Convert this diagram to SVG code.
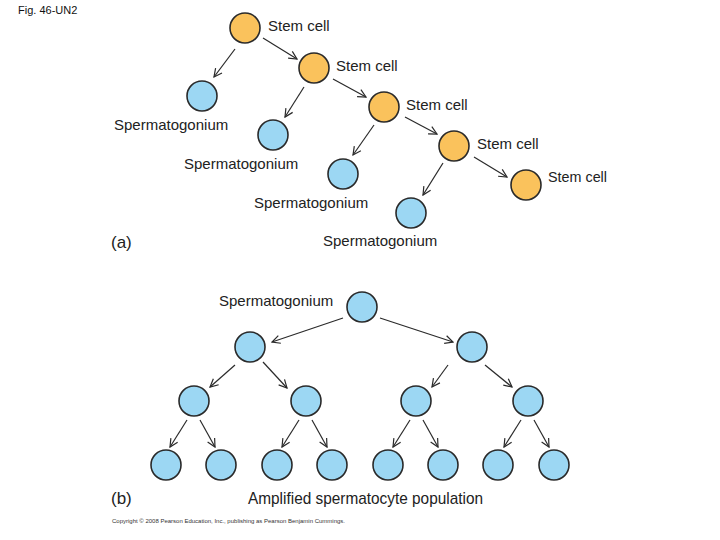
<svg xmlns="http://www.w3.org/2000/svg" width="720" height="540" viewBox="0 0 720 540">
<style>
.stem{fill:#FAC25C;stroke:#2a2a2a;stroke-width:1.6}
.sp{fill:#9CD7F3;stroke:#2a2a2a;stroke-width:1.6}
.lbl{font-family:"Liberation Sans",Arial,sans-serif;font-size:15px;fill:#222}
.big{font-family:"Liberation Sans",Arial,sans-serif;font-size:17px;fill:#222}
.arr{fill:none;stroke:#2a2a2a;stroke-width:1.2;marker-end:url(#ah)}
</style>
<defs>
<marker id="ah" viewBox="0 0 10 10" refX="9" refY="5" markerWidth="10" markerHeight="10" markerUnits="userSpaceOnUse" orient="auto">
<path d="M1,1 L9,5 L1,9" fill="none" stroke="#2a2a2a" stroke-width="1.2"/>
</marker>
</defs>
<rect width="720" height="540" fill="#fff"/>
<text x="18" y="14" font-family="Liberation Sans,Arial,sans-serif" font-size="11" fill="#111">Fig. 46-UN2</text>

<g id="connectors">
<!-- part a -->
<line class="arr" x1="235" y1="49" x2="214" y2="77"/>
<line class="arr" x1="263" y1="38" x2="297" y2="59"/>
<line class="arr" x1="304" y1="87" x2="285" y2="117"/>
<line class="arr" x1="333" y1="79" x2="366" y2="97"/>
<line class="arr" x1="374" y1="125" x2="353" y2="155"/>
<line class="arr" x1="405" y1="117" x2="437" y2="134"/>
<line class="arr" x1="443" y1="163" x2="423" y2="195"/>
<line class="arr" x1="474" y1="157" x2="507" y2="177"/>
<!-- part b -->
<line class="arr" x1="343" y1="318" x2="272" y2="342"/>
<line class="arr" x1="380" y1="318" x2="453" y2="342"/>
<line class="arr" x1="235" y1="365" x2="210" y2="387"/>
<line class="arr" x1="263" y1="362" x2="287" y2="388"/>
<line class="arr" x1="448" y1="365" x2="432" y2="387"/>
<line class="arr" x1="485" y1="365" x2="512" y2="387"/>
<line class="arr" x1="187" y1="420" x2="170" y2="447"/>
<line class="arr" x1="200" y1="420" x2="215" y2="447"/>
<line class="arr" x1="299" y1="420" x2="282" y2="447"/>
<line class="arr" x1="312" y1="420" x2="327" y2="447"/>
<line class="arr" x1="410" y1="420" x2="393" y2="447"/>
<line class="arr" x1="423" y1="420" x2="438" y2="447"/>
<line class="arr" x1="521" y1="420" x2="504" y2="447"/>
<line class="arr" x1="534" y1="420" x2="549" y2="447"/>
</g>

<g id="stem1"><circle class="stem" cx="245" cy="28" r="15"/><text class="lbl" x="268" y="31">Stem cell</text></g>
<g id="stem2"><circle class="stem" cx="314" cy="68" r="15"/><text class="lbl" x="336" y="71">Stem cell</text></g>
<g id="stem3"><circle class="stem" cx="384" cy="107" r="15"/><text class="lbl" x="406" y="110">Stem cell</text></g>
<g id="stem4"><circle class="stem" cx="454" cy="146" r="15"/><text class="lbl" x="477" y="149">Stem cell</text></g>
<g id="stem5"><circle class="stem" cx="526" cy="185" r="15"/><text class="lbl" x="548" y="182" textLength="59" lengthAdjust="spacingAndGlyphs">Stem cell</text></g>

<g id="sperm1"><circle class="sp" cx="202" cy="96" r="15"/><text class="lbl" x="114" y="130">Spermatogonium</text></g>
<g id="sperm2"><circle class="sp" cx="273" cy="135" r="15"/><text class="lbl" x="184" y="169">Spermatogonium</text></g>
<g id="sperm3"><circle class="sp" cx="343" cy="174" r="15"/><text class="lbl" x="254" y="208">Spermatogonium</text></g>
<g id="sperm4"><circle class="sp" cx="411" cy="213" r="15"/><text class="lbl" x="323" y="246">Spermatogonium</text></g>
<text class="big" x="111" y="248">(a)</text>

<g id="b-top"><circle class="sp" cx="362" cy="307" r="15"/><text class="lbl" x="219" y="306">Spermatogonium</text></g>
<g id="b-l2a"><circle class="sp" cx="250" cy="347" r="15"/></g>
<g id="b-l2b"><circle class="sp" cx="472" cy="347" r="15"/></g>
<g id="b-l3a"><circle class="sp" cx="194" cy="401" r="15"/></g>
<g id="b-l3b"><circle class="sp" cx="306" cy="401" r="15"/></g>
<g id="b-l3c"><circle class="sp" cx="416" cy="401" r="15"/></g>
<g id="b-l3d"><circle class="sp" cx="528" cy="401" r="15"/></g>
<g id="b-l4a"><circle class="sp" cx="166" cy="465" r="15"/></g>
<g id="b-l4b"><circle class="sp" cx="221" cy="465" r="15"/></g>
<g id="b-l4c"><circle class="sp" cx="277" cy="465" r="15"/></g>
<g id="b-l4d"><circle class="sp" cx="332" cy="465" r="15"/></g>
<g id="b-l4e"><circle class="sp" cx="388" cy="465" r="15"/></g>
<g id="b-l4f"><circle class="sp" cx="443" cy="465" r="15"/></g>
<g id="b-l4g"><circle class="sp" cx="498" cy="465" r="15"/></g>
<g id="b-l4h"><circle class="sp" cx="554" cy="465" r="15"/></g>
<text class="big" x="111" y="504">(b)</text>
<text class="big" x="248" y="504" textLength="235" lengthAdjust="spacingAndGlyphs">Amplified spermatocyte population</text>
<text x="112" y="523" font-family="Liberation Sans,Arial,sans-serif" font-size="5.6" fill="#333" textLength="233" lengthAdjust="spacingAndGlyphs">Copyright © 2008 Pearson Education, Inc., publishing as Pearson Benjamin Cummings.</text>
</svg>
